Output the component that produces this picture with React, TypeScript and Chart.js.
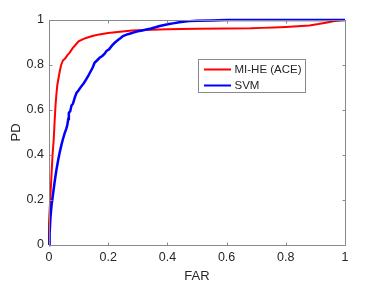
import React, { useEffect, useRef } from "react";
import { Chart, registerables } from "chart.js";

Chart.register(...registerables);

// ---- data ----
const redLabel = "MI-HE (ACE)";
const blueLabel = "SVM";

const redFAR = [0, 0, 0.004, 0.008, 0.012, 0.016, 0.019, 0.022, 0.025, 0.028, 0.032, 0.036, 0.041, 0.047, 0.055, 0.063, 0.07, 0.08, 0.09, 0.1, 0.115, 0.13, 0.15, 0.17, 0.2, 0.24, 0.28, 0.32, 0.4, 0.5, 0.6, 0.68, 0.72, 0.76, 0.8, 0.84, 0.88, 0.91, 0.94, 0.96, 0.98, 1.0];
const redPD = [0, 0.1, 0.2, 0.3, 0.4, 0.47, 0.55, 0.62, 0.67, 0.71, 0.74, 0.77, 0.8, 0.82, 0.83, 0.845, 0.855, 0.875, 0.89, 0.905, 0.915, 0.922, 0.93, 0.936, 0.942, 0.948, 0.953, 0.956, 0.959, 0.961, 0.962, 0.963, 0.965, 0.967, 0.969, 0.972, 0.976, 0.982, 0.989, 0.994, 0.998, 1.0];

const blueFAR = [0, 0.002, 0.005, 0.009, 0.014, 0.019, 0.025, 0.031, 0.036, 0.042, 0.047, 0.053, 0.058, 0.062, 0.065, 0.067, 0.072, 0.076, 0.081, 0.087, 0.093, 0.1, 0.109, 0.118, 0.125, 0.132, 0.14, 0.148, 0.154, 0.162, 0.171, 0.18, 0.188, 0.194, 0.203, 0.212, 0.222, 0.232, 0.242, 0.25, 0.262, 0.275, 0.284, 0.3, 0.315, 0.329, 0.345, 0.36, 0.374, 0.39, 0.405, 0.419, 0.44, 0.46, 0.475, 0.5, 0.55, 0.6, 0.7, 0.8, 0.9, 1.0];
const bluePD = [0, 0.05, 0.125, 0.18, 0.23, 0.28, 0.333, 0.378, 0.41, 0.445, 0.47, 0.497, 0.515, 0.534, 0.56, 0.587, 0.596, 0.62, 0.628, 0.655, 0.676, 0.688, 0.705, 0.72, 0.735, 0.75, 0.77, 0.79, 0.81, 0.82, 0.832, 0.84, 0.85, 0.862, 0.87, 0.885, 0.899, 0.91, 0.92, 0.929, 0.935, 0.94, 0.944, 0.95, 0.953, 0.958, 0.962, 0.968, 0.973, 0.978, 0.982, 0.985, 0.99, 0.993, 0.995, 0.997, 0.998, 1, 1, 1, 1, 1];

const tickValues = [0, 0.2, 0.4, 0.6, 0.8, 1];
const xTitle = "FAR";
const yTitle = "PD";

const FONT = "'Liberation Sans', Arial, Helvetica, sans-serif";
const AXIS_COLOR = "#8a8a8a";
const TEXT_COLOR = "#262626";
const RED = "#ff0000";
const BLUE = "#0000ff";

const toPoints = (xs: number[], ys: number[]) => xs.map((x, i) => ({ x, y: ys[i] }));

const matlabAxes = {
  id: "matlabAxes",
  afterDatasetsDraw(chart: any) {
    const { ctx, chartArea, scales } = chart;
    const { left, right, top, bottom } = chartArea;
    const L = Math.round(left) + 0.5;
    const R = Math.round(right) + 0.5;
    const T = Math.round(top) + 0.5;
    const B = Math.round(bottom) + 0.5;
    ctx.save();
    ctx.strokeStyle = AXIS_COLOR;
    ctx.lineWidth = 1;
    ctx.beginPath();
    ctx.moveTo(L, T);
    ctx.lineTo(R, T);
    ctx.lineTo(R, B);
    ctx.lineTo(L, B);
    ctx.closePath();
    ctx.stroke();
    const tl = 3;
    ctx.beginPath();
    tickValues.forEach((v) => {
      const x = Math.round(scales.x.getPixelForValue(v)) + 0.5;
      ctx.moveTo(x, B);
      ctx.lineTo(x, B - tl);
      ctx.moveTo(x, T);
      ctx.lineTo(x, T + tl);
      const y = Math.round(scales.y.getPixelForValue(v)) + 0.5;
      ctx.moveTo(L, y);
      ctx.lineTo(L + tl, y);
      ctx.moveTo(R, y);
      ctx.lineTo(R - tl, y);
    });
    ctx.stroke();

    // legend
    const bx = 198.5, by = 59.5, bw = 107, bh = 33;
    ctx.fillStyle = "#ffffff";
    ctx.fillRect(bx, by, bw, bh);
    ctx.strokeStyle = AXIS_COLOR;
    ctx.strokeRect(bx, by, bw, bh);
    const items = chart.data.datasets.map((d: any) => ({ label: d.label, color: d.borderColor, w: d.borderWidth }));
    const rows = [69.5, 85.5];
    ctx.font = `11.5px ${FONT}`;
    ctx.textBaseline = "middle";
    ctx.textAlign = "left";
    items.forEach((it: any, i: number) => {
      const y = rows[i];
      ctx.strokeStyle = it.color;
      ctx.lineWidth = 2;
      ctx.beginPath();
      ctx.moveTo(204, y);
      ctx.lineTo(231, y);
      ctx.stroke();
      ctx.fillStyle = TEXT_COLOR;
      ctx.fillText(it.label, 234.5, y + 0.5);
    });
    ctx.restore();
  },
};

export default function App() {
  const ref = useRef<HTMLCanvasElement | null>(null);
  useEffect(() => {
    document.body.style.margin = "0";
    const canvas = ref.current;
    if (!canvas) return;
    const chart = new Chart(canvas, {
      type: "scatter",
      data: {
        datasets: [
          {
            label: redLabel,
            data: toPoints(redFAR, redPD),
            showLine: true,
            borderColor: RED,
            backgroundColor: RED,
            borderWidth: 2,
            pointRadius: 0,
            tension: 0,
            order: 1,
            clip: 4,
          },
          {
            label: blueLabel,
            data: toPoints(blueFAR, bluePD),
            showLine: true,
            borderColor: BLUE,
            backgroundColor: BLUE,
            borderWidth: 2.5,
            pointRadius: 0,
            tension: 0,
            order: 0,
            clip: 4,
          },
        ],
      },
      options: {
        animation: false,
        responsive: false,
        devicePixelRatio: 1,
        layout: { padding: { top: 20, right: 37, left: 0, bottom: 0 } },
        plugins: {
          legend: { display: false },
          tooltip: { enabled: false },
        },
        scales: {
          x: {
            type: "linear",
            min: 0,
            max: 1,
            grid: { display: false, drawTicks: false },
            border: { display: false },
            afterFit: (s: any) => {
              s.height = 43;
            },
            afterBuildTicks: (s: any) => {
              s.ticks = tickValues.map((v) => ({ value: v }));
            },
            ticks: {
              padding: 5,
              color: TEXT_COLOR,
              font: { family: FONT, size: 12.5 },
              maxRotation: 0,
              callback: (v: any) => String(Number(v)),
            },
            title: {
              display: true,
              text: xTitle,
              color: TEXT_COLOR,
              font: { family: FONT, size: 13 },
              padding: { top: 0, bottom: 3.5 },
            },
          },
          y: {
            type: "linear",
            min: 0,
            max: 1,
            grid: { display: false, drawTicks: false },
            border: { display: false },
            afterFit: (s: any) => {
              s.width = 49;
            },
            afterBuildTicks: (s: any) => {
              s.ticks = tickValues.map((v) => ({ value: v }));
            },
            ticks: {
              padding: 5,
              color: TEXT_COLOR,
              font: { family: FONT, size: 12.5 },
              callback: (v: any) => String(Number(v)),
            },
            title: {
              display: true,
              text: yTitle,
              color: TEXT_COLOR,
              font: { family: FONT, size: 13 },
              padding: { top: 8.5, bottom: 0 },
            },
          },
        },
      },
      plugins: [matlabAxes],
    } as any);
    return () => chart.destroy();
  }, []);
  return (
    <div style={{ position: "absolute", left: 0, top: 0, width: 382, height: 288, background: "#fff" }}>
      <canvas ref={ref} width={382} height={288} style={{ display: "block", width: 382, height: 288 }} />
    </div>
  );
}
